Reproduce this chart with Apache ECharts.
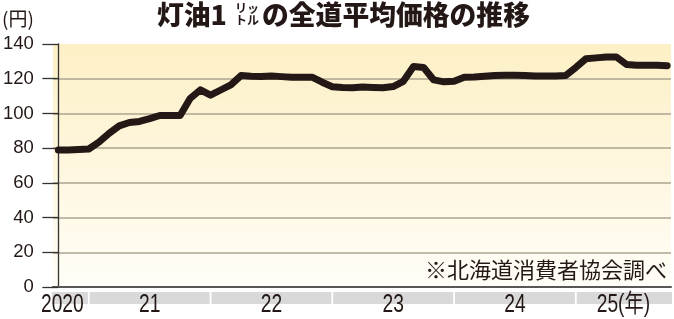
<!DOCTYPE html>
<html>
<head>
<meta charset="utf-8">
<script src="https://cdn.jsdelivr.net/npm/echarts@6/dist/echarts.min.js"></script>
<style>
html,body{margin:0;padding:0;background:#fff;}
#chart{width:674px;height:319px;}
</style>
</head>
<body>
<div id="chart"></div>
<script>
// ---- data ----
const months = [
  '2020-10','2020-11','2020-12',
  '2021-01','2021-02','2021-03','2021-04','2021-05','2021-06','2021-07','2021-08','2021-09','2021-10','2021-11','2021-12',
  '2022-01','2022-02','2022-03','2022-04','2022-05','2022-06','2022-07','2022-08','2022-09','2022-10','2022-11','2022-12',
  '2023-01','2023-02','2023-03','2023-04','2023-05','2023-06','2023-07','2023-08','2023-09','2023-10','2023-11','2023-12',
  '2024-01','2024-02','2024-03','2024-04','2024-05','2024-06','2024-07','2024-08','2024-09','2024-10','2024-11','2024-12',
  '2025-01','2025-02','2025-03','2025-04','2025-05','2025-06','2025-07','2025-08','2025-09','2025-10'
];
const price = [
  79.0, 79.0, 79.2,
  79.5, 83.5, 88.5, 92.8, 94.8, 95.4, 97.0, 98.8, 98.8, 98.8, 108.7, 113.6,
  110.5, 113.5, 116.5, 121.8, 121.4, 121.3, 121.6, 121.2, 120.8, 120.9, 120.9, 118.0,
  115.4, 114.9, 114.8, 115.2, 115.0, 114.8, 115.5, 118.5, 127.0, 126.5, 119.3, 118.2,
  118.5, 120.8, 121.0, 121.4, 121.8, 122.0, 122.0, 121.9, 121.6, 121.5, 121.5, 121.9,
  126.5, 131.5, 132.0, 132.5, 132.5, 128.2, 127.7, 127.8, 127.7, 127.5
];
const yearLabels = ['2020', '21', '22', '23', '24', '25(年)'];
const yMin = 0, yMax = 140, yStep = 20;

// ---- build ----
const xMin = -0.54, xMax = 60.38;
const lineData = price.map((v, i) => [i, v]);
const janIdx = [];
months.forEach((m, i) => { if (m.endsWith('-01')) janIdx.push(i); });
const starts = [xMin].concat(janIdx);
const ends = janIdx.concat([xMax]);
const bandData = starts.map((s, i) => [s, ends[i], 0]);

const INK = '#231815';
const CJK = '"Noto Sans CJK JP", sans-serif';

const chart = echarts.init(document.getElementById('chart'), null, {renderer: 'canvas'});
chart.setOption({
  animation: false,
  backgroundColor: '#ffffff',
  title: [
    {text: '(円)', left: 2, top: 9, padding: 0,
     textStyle: {fontFamily: CJK, fontSize: 19, fontWeight: 'normal', color: INK}},
    {text: '灯油1', left: 157, top: 1, padding: 0,
     textStyle: {fontFamily: CJK, fontSize: 26.8, fontWeight: 900, color: INK}},
    {text: 'リッ\nトル', left: 235, top: 2, padding: 0,
     textStyle: {fontFamily: CJK, fontSize: 12, lineHeight: 12, fontWeight: 'bold', color: INK}},
    {text: 'の全道平均価格の推移', left: 262, top: 1, padding: 0,
     textStyle: {fontFamily: CJK, fontSize: 26.8, fontWeight: 900, color: INK}},
    {text: '※北海道消費者協会調べ', right: 7, top: 259, padding: 0,
     textStyle: {fontFamily: CJK, fontSize: 22, fontWeight: 'normal', color: INK}}
  ],
  grid: {
    left: 52, right: 3, top: 44, bottom: 32,
    show: true, borderWidth: 0,
    backgroundColor: new echarts.graphic.LinearGradient(0, 0, 0, 1, [
      {offset: 0, color: '#fdf0c6'},
      {offset: 1, color: '#fffdf7'}
    ])
  },
  xAxis: {
    type: 'value', min: xMin, max: xMax,
    axisLine: {show: true, onZero: true, lineStyle: {color: '#5a5656', width: 2}},
    axisTick: {show: false},
    axisLabel: {show: false},
    splitLine: {show: false}
  },
  yAxis: {
    type: 'value', min: yMin, max: yMax, interval: yStep,
    axisLine: {show: true, lineStyle: {color: '#333', width: 1.3}},
    axisTick: {show: true, inside: false, length: 16, lineStyle: {color: '#333', width: 1.3}},
    axisLabel: {margin: 19, color: INK, fontSize: 18.5, fontFamily: '"Liberation Sans", Arial, sans-serif'},
    splitLine: {show: true, lineStyle: {
      color: ['#5a5656', '#aba58f', '#aba58f', '#aba58f', '#aba58f', '#aba58f', '#aba58f', 'rgba(0,0,0,0)'],
      width: 1.5
    }}
  },
  series: [
    {
      type: 'custom',
      clip: false,
      silent: true,
      z: 1,
      encode: {x: [0, 1], y: 2},
      data: bandData,
      renderItem: function (params, api) {
        const idx = params.dataIndex;
        const p1 = api.coord([api.value(0), 0]);
        const p2 = api.coord([api.value(1), 0]);
        const last = idx === bandData.length - 1;
        const first = idx === 0;
        const x0 = p1[0] + (first ? -1 : 0.9);
        const x1 = p2[0] - (last ? -1 : 0.9);
        return {
          type: 'group',
          children: [
            {type: 'rect', shape: {x: x0, y: p1[1] + 5, width: x1 - x0, height: 12},
             style: {fill: '#d9d9d9'}},
            {type: 'text',
             x: first ? p2[0] - 5 : (p1[0] + p2[0]) / 2,
             y: p1[1] + 18.5,
             scaleX: 0.77,
             style: {
               text: yearLabels[idx],
               x: 0, y: 0,
               align: first ? 'right' : 'center',
               verticalAlign: 'middle',
               fill: INK,
               font: '25px "Liberation Sans", "Noto Sans CJK JP", sans-serif'
             }}
          ]
        };
      }
    },
    {
      type: 'line',
      data: lineData,
      symbol: 'none',
      smooth: false,
      z: 5,
      lineStyle: {color: INK, width: 7, cap: 'round', join: 'round'}
    }
  ]
});
</script>
</body>
</html>
